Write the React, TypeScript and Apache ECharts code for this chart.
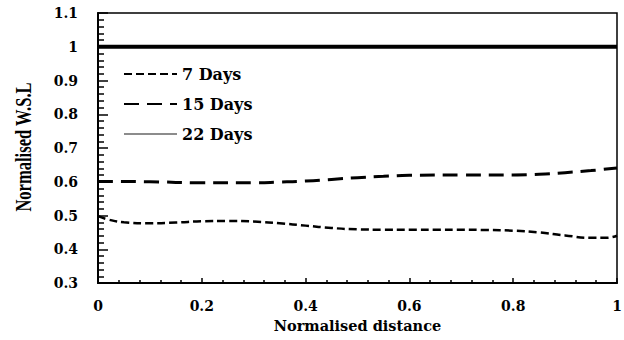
import React, { useEffect, useRef } from "react";
import * as echarts from "echarts";

const distance7 = [0, 0.02, 0.05, 0.1, 0.15, 0.2, 0.25, 0.3, 0.35, 0.4, 0.45, 0.5, 0.55, 0.6, 0.65, 0.7, 0.75, 0.8, 0.85, 0.9, 0.95, 0.98, 1.0];
const wsl7 = [0.498, 0.488, 0.48, 0.477, 0.479, 0.483, 0.484, 0.482, 0.477, 0.47, 0.463, 0.459, 0.458, 0.458, 0.458, 0.458, 0.457, 0.455, 0.45, 0.441, 0.434, 0.434, 0.44];
const distance15 = [0, 0.1, 0.2, 0.3, 0.35, 0.4, 0.45, 0.5, 0.55, 0.6, 0.7, 0.8, 0.85, 0.9, 0.95, 1.0];
const wsl15 = [0.601, 0.6, 0.597, 0.597, 0.599, 0.602, 0.607, 0.612, 0.616, 0.619, 0.62, 0.62, 0.622, 0.627, 0.633, 0.641];
const distance22 = [0, 1];
const wsl22 = [1, 1];
const seriesNames = ["7 Days", "15 Days", "22 Days"];
const xAxisName = "Normalised distance";
const yAxisName = "Normalised W.S.L";

const zip = (xs: number[], ys: number[]) => xs.map((x, i) => [x, ys[i]]);

export default function App() {
  const ref = useRef<HTMLDivElement>(null);
  useEffect(() => {
    if (!ref.current) return;
    const chart = echarts.init(ref.current, undefined, { renderer: "svg" });
    const labelFont = {
      fontFamily: "DejaVu Serif",
      fontWeight: "bold" as const,
      fontSize: 14,
      color: "#000",
    };
    chart.setOption({
      animation: false,
      backgroundColor: "#fff",
      grid: {
        left: 98,
        right: 7,
        top: 13,
        bottom: 57,
        containLabel: false,
        outerBoundsMode: "none",
        show: true,
        borderColor: "#000",
        borderWidth: 1.5,
      },
      legend: {
        orient: "vertical",
        left: 123,
        top: 66,
        padding: 0,
        itemWidth: 53,
        itemHeight: 14,
        itemGap: 14,
        itemStyle: { opacity: 0 },
        textStyle: { ...labelFont, fontSize: 16 },
        data: [
          { name: seriesNames[0] },
          { name: seriesNames[1] },
          { name: seriesNames[2], lineStyle: { color: "#666", width: 1.5 } },
        ],
      },
      xAxis: {
        type: "value",
        min: 0,
        max: 1,
        interval: 0.2,
        name: xAxisName,
        nameLocation: "middle",
        nameGap: 35,
        nameTextStyle: { ...labelFont, fontSize: 14.5 },
        axisLine: { lineStyle: { color: "#000", width: 2 } },
        axisTick: { inside: true, length: 5, lineStyle: { color: "#000", width: 1.5 } },
        minorTick: { show: true, splitNumber: 5, length: 3, lineStyle: { color: "#000", width: 1.5 } },
        axisLabel: { ...labelFont, margin: 16 },
        splitLine: { show: false },
      },
      yAxis: {
        type: "value",
        min: 0.3,
        max: 1.1,
        interval: 0.1,
        axisLine: { show: true, lineStyle: { color: "#000", width: 2 } },
        axisTick: { show: true, inside: true, length: 10, lineStyle: { color: "#000", width: 1.5 } },
        minorTick: { show: true, splitNumber: 5, length: 6, lineStyle: { color: "#000", width: 1.5 } },
        axisLabel: { ...labelFont, margin: 20 },
        splitLine: { show: false },
      },
      graphic: [
        {
          type: "text",
          x: 23,
          y: 147,
          rotation: Math.PI / 2,
          scaleX: 0.69,
          scaleY: 1,
          style: {
            text: yAxisName,
            fontFamily: "Liberation Serif",
            fontWeight: "bold",
            fontSize: 24,
            fill: "#000",
            align: "center",
            verticalAlign: "middle",
          },
        },
      ],
      series: [
        {
          name: seriesNames[0],
          type: "line",
          data: zip(distance7, wsl7),
          smooth: true,
          symbol: "none",
          lineStyle: { color: "#000", width: 2.5, type: [8, 4] },
          itemStyle: { color: "#000" },
        },
        {
          name: seriesNames[1],
          type: "line",
          data: zip(distance15, wsl15),
          smooth: true,
          symbol: "none",
          lineStyle: { color: "#000", width: 3, type: [15, 8] },
          itemStyle: { color: "#000" },
        },
        {
          name: seriesNames[2],
          type: "line",
          data: zip(distance22, wsl22),
          symbol: "none",
          lineStyle: { color: "#000", width: 4, type: "solid" },
          itemStyle: { color: "#000" },
        },
      ],
    });
    return () => chart.dispose();
  }, []);
  return (
    <div
      ref={ref}
      style={{ position: "fixed", left: 0, top: 0, width: 624, height: 340 }}
    />
  );
}
